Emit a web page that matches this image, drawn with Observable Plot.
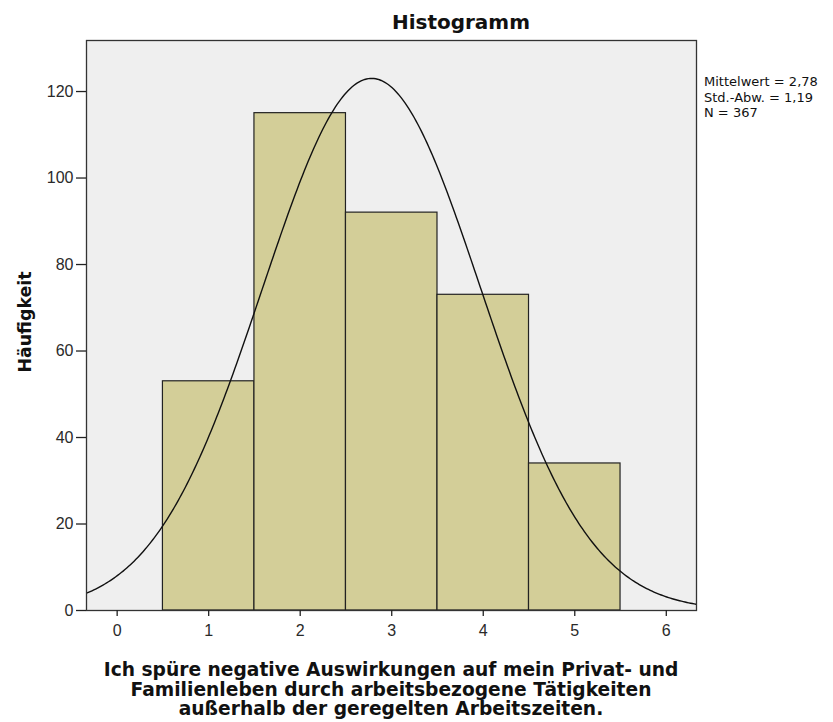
<!DOCTYPE html>
<html><head><meta charset="utf-8">
<script src="https://cdn.jsdelivr.net/npm/d3@7"></script>
<script src="https://cdn.jsdelivr.net/npm/@observablehq/plot@0.6"></script>
<style>body{margin:0;background:#fff;font-family:"Liberation Sans",Arial,sans-serif}</style>
</head><body><div id="chart"></div>
<script>
const binCenters = [1, 2, 3, 4, 5];
const counts = [53, 115, 92, 73, 34];
const xTicks = [0, 1, 2, 3, 4, 5, 6];
const yTicks = [0, 20, 40, 60, 80, 100, 120];
const statMean = 2.78, statSd = 1.19, statN = 367;
const statLines = ["Mittelwert = 2,78", "Std.-Abw. = 1,19", "N = 367"];
const title = "Histogramm";
const yLabel = "Häufigkeit";
const xLabelLines = ["Ich spüre negative Auswirkungen auf mein Privat- und", "Familienleben durch arbeitsbezogene Tätigkeiten", "außerhalb der geregelten Arbeitszeiten."];

const bars = binCenters.map((c, i) => ({x1: c - 0.5, x2: c + 0.5, y: counts[i]}));
const xDom = [-0.335, 6.33];
// fitted normal curve from the displayed statistics (bin width 1)
const curve = d3.range(xDom[0], xDom[1] + 0.001, 0.02).map(x => ({x, y: statN / (statSd * Math.sqrt(2 * Math.PI)) * Math.exp(-0.5 * ((x - statMean) / statSd) ** 2)}));

const W = 833, H = 722;
const plot = Plot.plot({
  width: W, height: H,
  marginLeft: 86, marginRight: 137, marginTop: 40, marginBottom: 112,
  style: {fontFamily: '"Liberation Sans", Arial, sans-serif', fontSize: "16px", color: "#2a2a2a", background: "#fff"},
  x: {domain: xDom, label: null},
  y: {domain: [0, 131.8], label: null},
  marks: [
    Plot.frame({fill: "#efefef"}),
    Plot.rectY(bars, {x1: "x1", x2: "x2", y: "y", fill: "#d3ce98", stroke: "#222", strokeWidth: 1.2, inset: 0}),
    Plot.line(curve, {x: "x", y: "y", stroke: "#111", strokeWidth: 1.4, clip: true}),
    Plot.frame({stroke: "#333", strokeWidth: 1.3}),
    Plot.axisX({ticks: xTicks, tickSize: 6, tickPadding: 8, fontSize: 16, tickFormat: d => String(d), stroke: "#222", strokeWidth: 1.3}),
    Plot.axisY({ticks: yTicks, tickSize: 10, tickPadding: 3, fontSize: 16, stroke: "#222", strokeWidth: 1.3})
  ]
});
document.getElementById("chart").appendChild(plot);
const svg = d3.select(plot);
const boldFont = '"DejaVu Sans", Verdana, sans-serif';
function fit(sel, target, base) {
  const w = sel.node().getComputedTextLength();
  if (w > 0) sel.attr("font-size", (base * target / w).toFixed(2));
  return sel;
}
const t = svg.append("text").attr("x", 461).attr("y", 29).attr("text-anchor", "middle")
  .attr("font-family", boldFont).attr("font-size", 20).attr("font-weight", "bold").attr("fill", "#111").text(title);
fit(t, 138, 20);
const yl = svg.append("text").attr("transform", "translate(31,322) rotate(-90)").attr("text-anchor", "middle")
  .attr("font-family", boldFont).attr("font-size", 18).attr("font-weight", "bold").attr("fill", "#111").text(yLabel);
fit(yl, 101, 18);
const xl = xLabelLines.map((s, i) => svg.append("text").attr("x", 391).attr("y", 676 + i * 19.5).attr("text-anchor", "middle")
  .attr("font-family", boldFont).attr("font-size", 18).attr("font-weight", "bold").attr("fill", "#111").text(s));
const w0 = xl[0].node().getComputedTextLength();
const fs = w0 > 0 ? 18 * 575 / w0 : 18;
xl.forEach(s => s.attr("font-size", fs.toFixed(2)));
statLines.forEach((s, i) => svg.append("text").attr("x", 704).attr("y", 86 + i * 15.5).attr("text-anchor", "start")
  .attr("font-family", '"DejaVu Sans", Verdana, sans-serif').attr("font-size", 13).attr("fill", "#111").text(s));
</script></body></html>
